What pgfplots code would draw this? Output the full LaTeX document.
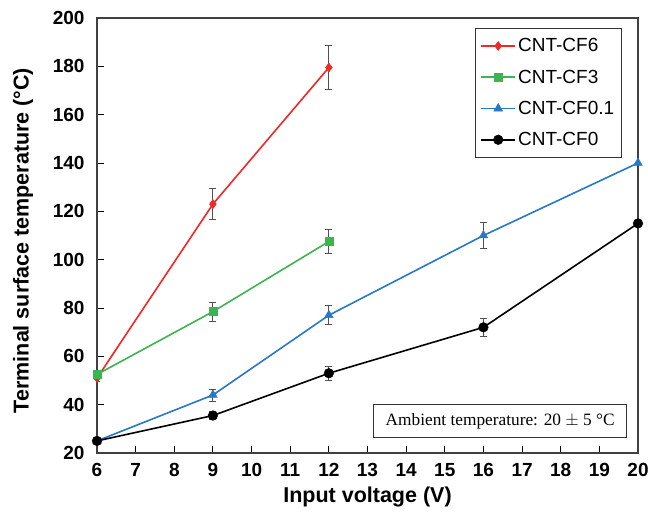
\documentclass[border=0pt]{standalone}
\usepackage{fontspec}
\setmainfont{Liberation Sans}
\newfontfamily\seriffont{Liberation Serif}
\usepackage{pgfplots}
\pgfplotsset{compat=1.18}
\definecolor{cfred}{RGB}{240,40,40}
\definecolor{cfgreen}{RGB}{60,180,80}
\definecolor{cfblue}{RGB}{40,120,200}
\definecolor{errgray}{RGB}{80,80,80}

\pgfplotstableread{
x y e
6 51 1.5
9 123 6.5
12 179.5 9
}\cfsix
\pgfplotstableread{
x y e
6 52.5 1.5
9 78.5 4
12 107.5 5
}\cfthree
\pgfplotstableread{
x y e
6 25 0.5
9 44 2.5
12 77 4
16 110 5.5
20 140 0
}\cfpointone
\pgfplotstableread{
x y e
6 25 0.5
9 35.5 1.5
12 53 3
16 72 3.6
20 115 0
}\cfzero

\begin{document}
\begin{tikzpicture}
\begin{axis}[
  scale only axis,
  width=541pt, height=435pt,
  xmin=6, xmax=20, ymin=20, ymax=200,
  xtick={6,...,20}, ytick={20,40,...,200},
  xtick pos=left, ytick pos=left,
  tick align=inside,
  major tick length=7pt,
  tick style={black, line width=0.9pt},
  axis line style={black!75, line width=1.2pt},
  /pgf/number format/assume math mode=true,
  ticklabel style={font=\fontsize{19}{19}\selectfont\bfseries},
  xticklabel style={yshift=-7pt},
  yticklabel style={xshift=-9pt},
  every axis x label/.style={at={(rel axis cs:0.5,0)}, anchor=base, yshift=-50pt, font=\fontsize{21.5}{21.5}\selectfont\bfseries},
  every axis y label/.style={at={(rel axis cs:0,0.5)}, xshift=-74pt, yshift=-5pt, rotate=90, anchor=center, font=\fontsize{21.5}{21.5}\selectfont\bfseries},
  xlabel={Input voltage (V)},
  ylabel={Terminal surface temperature (°C)},
  legend cell align=left,
  legend style={at={(rel axis cs:0.970,0.977)}, anchor=north east,
    font=\fontsize{19}{19}\selectfont, draw=black!80, line width=1.2pt,
    row sep=12.5pt, inner xsep=5pt, inner ysep=8pt},
  legend image code/.code={\draw[mark repeat=2,mark phase=2] plot coordinates {(0cm,0cm)(0.6cm,0cm)(1.2cm,0cm)};},
  error bars/y dir=both,
  error bars/y explicit,
  error bars/error bar style={errgray, line width=0.9pt},
  error bars/error mark options={rotate=90, mark size=3.5pt, errgray, line width=0.9pt},
]
\addplot[cfred, line width=1.6pt, mark=diamond*, mark size=4.5pt, mark options={solid, fill=cfred, line width=0.5pt}]
  table[x=x, y=y, y error=e] {\cfsix};
\addlegendentry{CNT-CF6}
\addplot[cfgreen, line width=1.6pt, mark=square*, mark size=4pt, mark options={solid, fill=cfgreen, line width=0.5pt}]
  table[x=x, y=y, y error=e] {\cfthree};
\addlegendentry{CNT-CF3}
\addplot[cfblue, line width=1.6pt, mark=triangle*, mark size=5pt, mark options={solid, fill=cfblue, line width=0.5pt}]
  table[x=x, y=y, y error=e] {\cfpointone};
\addlegendentry{CNT-CF0.1}
\addplot[black, line width=1.6pt, mark=*, mark size=4.8pt, mark options={solid, fill=black, line width=0.5pt}]
  table[x=x, y=y, y error=e] {\cfzero};
\addlegendentry{CNT-CF0}
\node[draw=black!80, line width=1.2pt, fill=white, anchor=south east, minimum height=33pt, inner xsep=12pt,
  font=\seriffont\fontsize{17.3}{17.3}\selectfont] at (rel axis cs:0.98,0.034) {Ambient temperature: 20 $\pm$ 5 °C};
\end{axis}
\pgfresetboundingbox
\path[use as bounding box] (-97pt,-65pt) rectangle (551pt,453pt);
\end{tikzpicture}
\end{document}
